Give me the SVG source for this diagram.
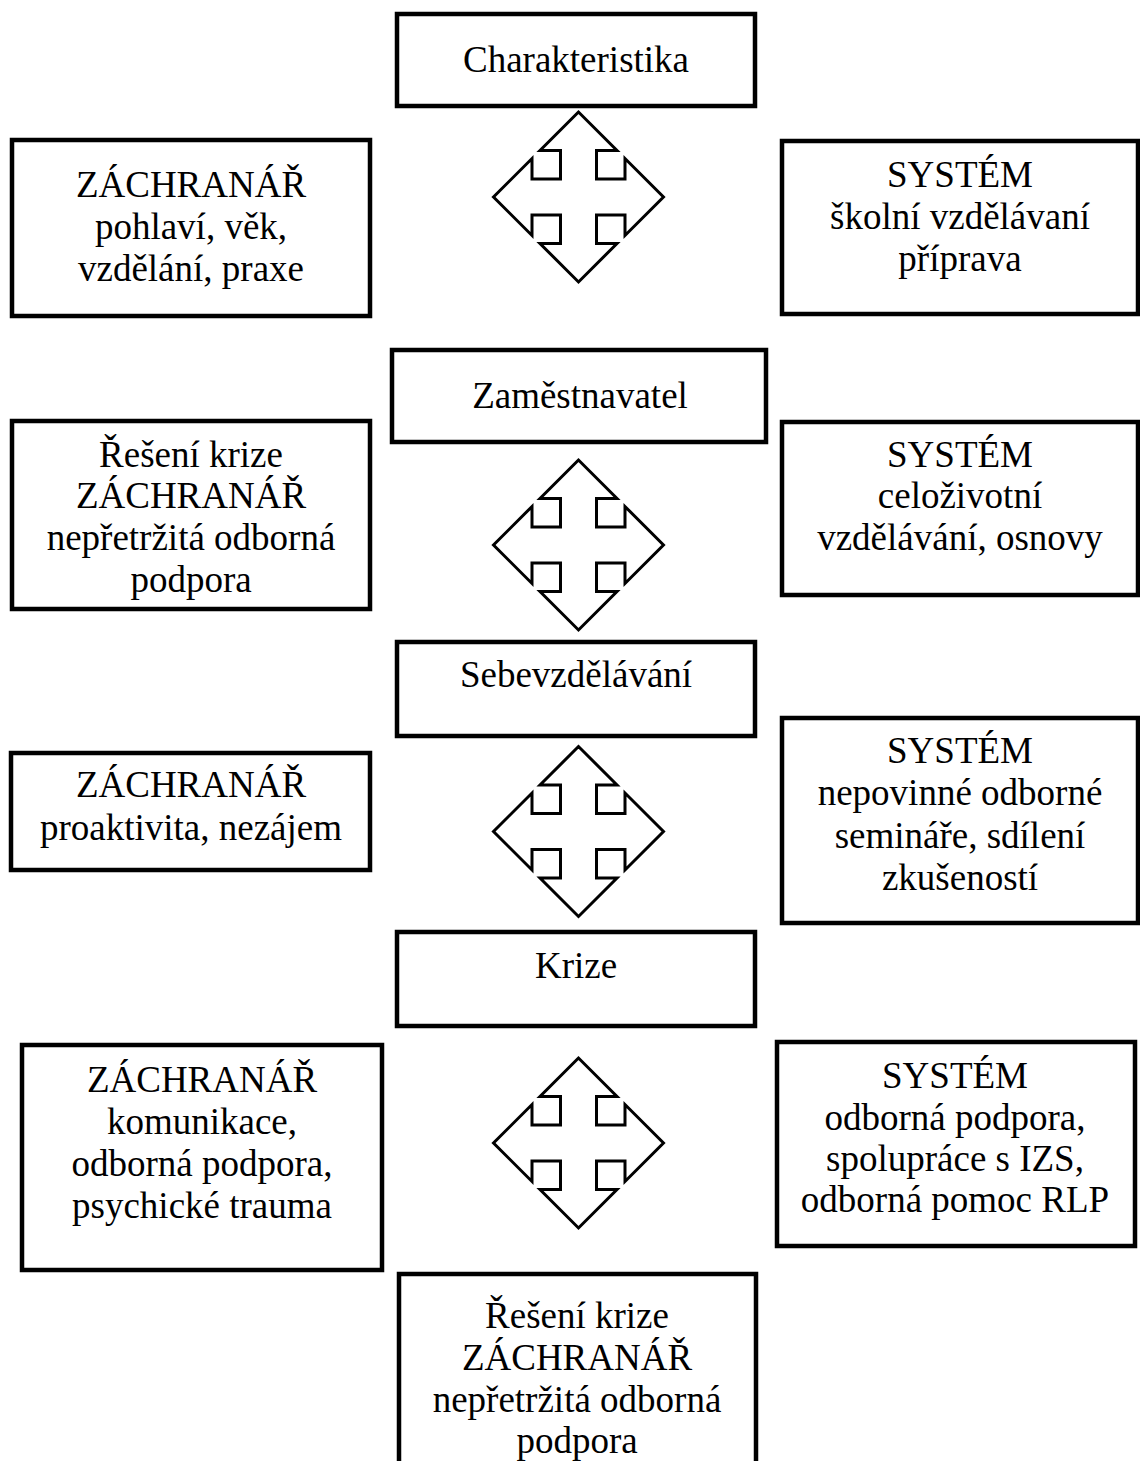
<svg xmlns="http://www.w3.org/2000/svg" xmlns:xlink="http://www.w3.org/1999/xlink" width="1140" height="1461" viewBox="0 0 1140 1461">
<style>
.box{fill:#fff;stroke:#000;stroke-width:4.5}
.t{font-family:"Liberation Serif","Times New Roman",serif;font-size:37px;fill:#000;text-anchor:middle}
.arr{fill:#fff;stroke:#000;stroke-width:3;stroke-linejoin:miter}
</style>
<defs>
<path id="quad" d="M0,-85 L-38.5,-46.5 L-18,-46.5 L-18,-18 L-46.5,-18 L-46.5,-38.5 L-85,0 L-46.5,38.5 L-46.5,18 L-18,18 L-18,46.5 L-38.5,46.5 L0,85 L38.5,46.5 L18,46.5 L18,18 L46.5,18 L46.5,38.5 L85,0 L46.5,-38.5 L46.5,-18 L18,-18 L18,-46.5 L38.5,-46.5 Z"/>
</defs>
<rect width="1140" height="1461" fill="#fff"/>

<g id="connectors">
<use xlink:href="#quad" class="arr" x="578.5" y="197"/>
<use xlink:href="#quad" class="arr" x="578.5" y="545"/>
<use xlink:href="#quad" class="arr" x="578.5" y="831.5"/>
<use xlink:href="#quad" class="arr" x="578.5" y="1143"/>
</g>

<g id="charakteristika">
<rect class="box" x="397" y="14" width="358" height="92"/>
<text class="t" x="576" y="72">Charakteristika</text>
</g>
<g id="zachranar1">
<rect class="box" x="12" y="140" width="358" height="176"/>
<text class="t" x="191" y="197">ZÁCHRANÁŘ</text>
<text class="t" x="191" y="239">pohlaví, věk,</text>
<text class="t" x="191" y="281">vzdělání, praxe</text>
</g>
<g id="system1">
<rect class="box" x="782" y="141" width="356" height="173"/>
<text class="t" x="960" y="187">SYSTÉM</text>
<text class="t" x="960" y="229">školní vzdělávaní</text>
<text class="t" x="960" y="271">příprava</text>
</g>

<g id="zamestnavatel">
<rect class="box" x="392" y="350" width="374" height="92"/>
<text class="t" x="580" y="408">Zaměstnavatel</text>
</g>
<g id="zachranar2">
<rect class="box" x="12" y="421" width="358" height="188"/>
<text class="t" x="191" y="467">Řešení krize</text>
<text class="t" x="191" y="508">ZÁCHRANÁŘ</text>
<text class="t" x="191" y="550">nepřetržitá odborná</text>
<text class="t" x="191" y="592">podpora</text>
</g>
<g id="system2">
<rect class="box" x="782" y="422" width="356" height="173"/>
<text class="t" x="960" y="467">SYSTÉM</text>
<text class="t" x="960" y="508">celoživotní</text>
<text class="t" x="960" y="550">vzdělávání, osnovy</text>
</g>

<g id="sebevzdelavani">
<rect class="box" x="397" y="642" width="358" height="94"/>
<text class="t" x="576" y="687">Sebevzdělávání</text>
</g>
<g id="zachranar3">
<rect class="box" x="11" y="753" width="359" height="117"/>
<text class="t" x="191" y="797">ZÁCHRANÁŘ</text>
<text class="t" x="191" y="840">proaktivita, nezájem</text>
</g>
<g id="system3">
<rect class="box" x="782" y="718" width="356" height="205"/>
<text class="t" x="960" y="763">SYSTÉM</text>
<text class="t" x="960" y="805">nepovinné odborné</text>
<text class="t" x="960" y="848">semináře, sdílení</text>
<text class="t" x="960" y="890">zkušeností</text>
</g>

<g id="krize">
<rect class="box" x="397" y="932" width="358" height="94"/>
<text class="t" x="576" y="978">Krize</text>
</g>
<g id="zachranar4">
<rect class="box" x="22" y="1045" width="360" height="225"/>
<text class="t" x="202" y="1092">ZÁCHRANÁŘ</text>
<text class="t" x="202" y="1134">komunikace,</text>
<text class="t" x="202" y="1176">odborná podpora,</text>
<text class="t" x="202" y="1218">psychické trauma</text>
</g>
<g id="system4">
<rect class="box" x="777" y="1042" width="358" height="204"/>
<text class="t" x="955" y="1088">SYSTÉM</text>
<text class="t" x="955" y="1130">odborná podpora,</text>
<text class="t" x="955" y="1171">spolupráce s IZS,</text>
<text class="t" x="955" y="1212">odborná pomoc RLP</text>
</g>

<g id="reseni-krize">
<rect class="box" x="399" y="1274" width="357" height="200"/>
<text class="t" x="577" y="1328">Řešení krize</text>
<text class="t" x="577" y="1370">ZÁCHRANÁŘ</text>
<text class="t" x="577" y="1412">nepřetržitá odborná</text>
<text class="t" x="577" y="1453">podpora</text>
</g>
</svg>
